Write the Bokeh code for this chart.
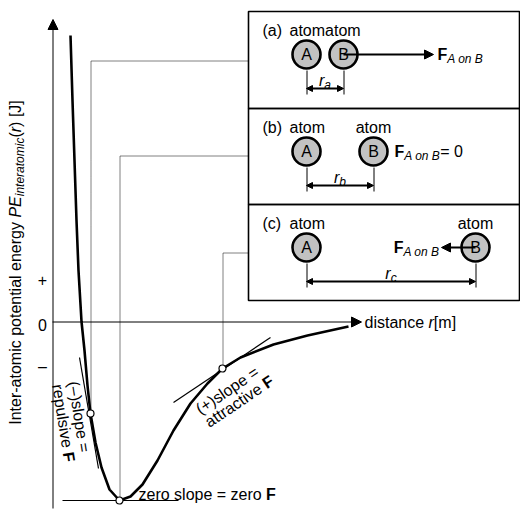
import math
from bokeh.plotting import figure
from bokeh.models import Range1d, Arrow, NormalHead
from bokeh.core.properties import value
from bokeh.embed import file_html
from bokeh.resources import INLINE

# ---------------- data (arbitrary units, origin = axes crossing) ----------------
r_curve = [18, 20, 22, 24, 26, 29, 32, 35, 38, 43, 49, 57, 67, 78, 90, 105, 121, 138, 155, 170, 188, 221, 255, 296]
pe_curve = [286, 221, 161, 101, 51, 0, -29, -64, -92, -121, -146, -168, -179, -175, -163, -139, -109, -82, -62, -47, -36, -23, -14, -5]
# marked states: repulsive, equilibrium, attractive
r_marks = [38, 67, 170]
pe_marks = [-92, -179, -47]
# tangent segments
tan_r0 = [27, 10, 121]
tan_pe0 = [-36, -179, -81]
tan_r1 = [46, 126, 218]
tan_pe1 = [-147, -179, -16]
# leader levels (dotted lines to the boxes)
leader_pe = [261, 166, 69]
y_tick_labels = ["+", "0", "\u2013"]
y_tick_pe = [42, -3, -45]
row_labels = ["(a)", "(b)", "(c)"]
r_labels = ["a", "b", "c"]

FONT = value("Liberation Sans")
FS = 16
W = {' ': 278, '(': 333, ')': 333, '-': 333, '\u2013': 556, '=': 584, '[': 278, ']': 278, '0': 556, '+': 584,
     'a': 556, 'b': 556, 'c': 500, 'd': 556, 'e': 556, 'g': 556, 'i': 222, 'l': 222, 'm': 833, 'n': 556,
     'o': 556, 'p': 556, 'r': 333, 's': 500, 't': 278, 'u': 556, 'v': 500, 'y': 500, 'z': 500,
     'A': 667, 'B': 667, 'E': 667, 'F': 611, 'I': 278, 'J': 500, 'P': 667}


def tw(s, size):
    return sum(W.get(ch, 556) for ch in s) * size / 1000.0


def X(px):
    return px - 52


def Y(py):
    return 321 - py


H = 0.5  # half-pixel shift for crisp thin lines

p = figure(width=520, height=515, x_range=Range1d(-52, 468), y_range=Range1d(-194, 321),
           output_backend="svg", toolbar_location=None, min_border=0,
           x_axis_location=None, y_axis_location=None)
p.grid.visible = False
p.outline_line_color = None
p.background_fill_color = "white"


def txt(x, y, s, size=FS, style="normal", align="left", baseline="middle", angle=0.0):
    p.text(x=[x], y=[y], text=[s], text_font=FONT, text_font_size=value(f"{size}px"),
           text_font_style=value(style), text_align=value(align), text_baseline=value(baseline),
           angle=angle, text_color="black")


def run(x, y, pieces, angle=0.0):
    ca, sa = math.cos(angle), math.sin(angle)
    pos = 0.0
    for s, size, style, shift in pieces:
        txt(x + pos * ca + shift * sa, y + pos * sa - shift * ca, s, size, style, angle=angle)
        pos += tw(s, size)
    return pos


# ---------------- axes ----------------
p.add_layout(Arrow(end=NormalHead(size=10, fill_color="black", line_color="black", line_width=1),
                   x_start=H, y_start=Y(508), x_end=H, y_end=Y(19), line_width=1, line_color="black"))
p.add_layout(Arrow(end=NormalHead(size=10, fill_color="black", line_color="black", line_width=1),
                   x_start=0, y_start=-H, x_end=X(361), y_end=-H, line_width=1, line_color="black"))
for lab, pe in zip(y_tick_labels, y_tick_pe):
    txt(X(42), pe, lab, FS, align="center")
run(X(364), Y(322), [("distance ", FS, "normal", 0), ("r", FS, "italic", 0), ("[m]", FS, "normal", 0)])

# y title (rotated)
title_pieces = [("Inter-atomic potential energy ", 16, "normal", 0), ("PE", 16, "italic", 0),
                ("interatomic", 12, "italic", 4), ("(", 16, "normal", 0), ("r", 16, "italic", 0),
                (") [J]", 16, "normal", 0)]
tot = sum(tw(s, z) for s, z, _, _ in title_pieces)
run(X(15), Y(262) - tot / 2, title_pieces, angle=math.pi / 2)

# ---------------- dotted leaders ----------------
box_left = X(248)
for r, pe, lv in zip(r_marks, pe_marks, leader_pe):
    p.line([r + H, r + H, box_left], [pe, lv - H, lv - H], line_color="black", line_width=1, line_dash="1 1")

# ---------------- curve, tangents, marks ----------------
p.segment(tan_r0, tan_pe0, tan_r1, tan_pe1, line_color="black", line_width=1.2)
p.line(r_curve, pe_curve, line_color="black", line_width=2.6, line_join="round")
p.scatter(r_marks, pe_marks, size=7, fill_color="white", line_color="black", line_width=1.2)

run(X(138), Y(494), [("zero slope = zero ", FS, "normal", 0), ("F", FS, "bold", 0)])

ang_p = math.radians(34)
run(X(197), Y(410), [("(+)slope =", FS, "normal", 0)], angle=ang_p)
run(X(206), Y(423), [("attractive ", FS, "normal", 0), ("F", FS, "bold", 0)], angle=ang_p)

ang_m = math.radians(-81)
run(X(73), Y(381), [("(\u2013)slope =", FS, "normal", 0)], angle=ang_m)
run(X(57), Y(384), [("repulsive ", FS, "normal", 0), ("F", FS, "bold", 0)], angle=ang_m)

# ---------------- boxes ----------------
box_tops = [11, 108, 204]
box_bottoms = [108, 204, 300]
p.quad(left=[X(248)] * 3, right=[X(519)] * 3, top=[Y(t) for t in box_tops],
       bottom=[Y(b) for b in box_bottoms], fill_color=None, line_color="black", line_width=1.6)

xa = 306
xb_list = [343, 373, 475]
row_off = [0, 97, 193]
for i in range(3):
    o = row_off[i]
    xb = xb_list[i]
    txt(X(262), Y(30 + o), row_labels[i], FS)
    if i == 0:
        txt(X(289), Y(30 + o), "atomatom", FS)
    else:
        txt(X(289), Y(30 + o), "atom", FS)
        txt(X(xb), Y(30 + o), "atom", FS, align="center")
    p.scatter([X(xa), X(xb)], [Y(54 + o), Y(54 + o)], size=28, fill_color="#c2c2c2",
              line_color="black", line_width=2.6)
    txt(X(xa), Y(54 + o), "A", FS, align="center")
    txt(X(xb), Y(54 + o), "B", FS, align="center")
    if i == 0:
        p.add_layout(Arrow(end=NormalHead(size=9, fill_color="black", line_color="black"),
                           x_start=X(xb), y_start=Y(54 + o), x_end=X(433), y_end=Y(54 + o),
                           line_width=2, line_color="black"))
    if i == 2:
        p.add_layout(Arrow(end=NormalHead(size=9, fill_color="black", line_color="black"),
                           x_start=X(xb), y_start=Y(54 + o), x_end=X(441), y_end=Y(54 + o),
                           line_width=2, line_color="black"))
    # separation bracket
    p.segment([X(xa) + H, X(xb) + H], [Y(70 + o)] * 2, [X(xa) + H, X(xb) + H], [Y(94 + o)] * 2,
              line_color="black", line_width=1)
    p.add_layout(Arrow(start=NormalHead(size=6, fill_color="black", line_color="black"),
                       end=NormalHead(size=6, fill_color="black", line_color="black"),
                       x_start=X(xa), y_start=Y(88 + o), x_end=X(xb), y_end=Y(88 + o),
                       line_width=2, line_color="black"))
    mid = (xa + xb) / 2
    wlab = tw("r", FS) + tw(r_labels[i], 12)
    run(X(mid) - wlab / 2, Y(80 + o), [("r", FS, "italic", 0), (r_labels[i], 12, "italic", 4)])

# force labels
run(X(437), Y(54), [("F", FS, "bold", 0), ("A on B", 12, "italic", 4)])
run(X(394), Y(151), [("F", FS, "bold", 0), ("A on B", 12, "italic", 4), (" = 0", FS, "normal", 0)])
fw = tw("F", FS) + tw("A on B", 12)
run(X(439) - fw, Y(247), [("F", FS, "bold", 0), ("A on B", 12, "italic", 4)])

open("out.html", "w").write(file_html(p, INLINE))
